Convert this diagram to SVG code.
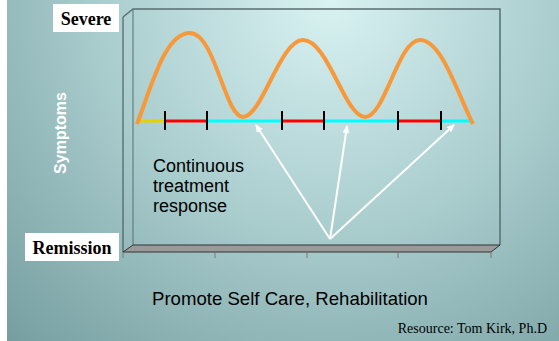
<svg xmlns="http://www.w3.org/2000/svg" width="559" height="341" viewBox="0 0 559 341">
<defs>
<radialGradient id="bg" cx="330" cy="0" r="520" gradientUnits="userSpaceOnUse">
<stop offset="0" stop-color="#d9f2f2"/>
<stop offset="0.45" stop-color="#a9cccd"/>
<stop offset="1" stop-color="#6b9496"/>
</radialGradient>
<marker id="ah" markerWidth="8" markerHeight="8" refX="7" refY="4" orient="auto" markerUnits="userSpaceOnUse">
<path d="M0,0.5 L8,4 L0,7.5 Z" fill="#ffffff"/>
</marker>
<style>
.lbl{font-family:"Liberation Serif","Times New Roman",serif;font-weight:bold;font-size:18px;fill:#000}
.sans{font-family:"Liberation Sans",Arial,sans-serif;fill:#000}
.tick{stroke:#000;stroke-width:2}
.arr{stroke:#fff;stroke-width:2;fill:none;marker-end:url(#ah)}
.seg{stroke-width:3;fill:none}
</style>
</defs>
<rect x="0" y="0" width="559" height="341" fill="#ffffff"/>
<rect x="7" y="0" width="552" height="341" fill="url(#bg)"/>

<g id="chart-frame">
<path d="M123,17 L133,9 L500,9 L500,245" fill="none" stroke="#5a6e70" stroke-width="1.5"/>
<path d="M133,9 L133,245" fill="none" stroke="#5a6e70" stroke-width="1"/>
<line x1="123" y1="17" x2="123" y2="252" stroke="#3d4c4d" stroke-width="1"/>
<path d="M123,252 L133,245 L500,245 L491,252 Z" fill="#9a9a9a" stroke="#333" stroke-width="1"/>
<g stroke="#777" stroke-width="1">
<line x1="123" y1="252" x2="123" y2="258"/>
<line x1="215" y1="252" x2="215" y2="258"/>
<line x1="307" y1="252" x2="307" y2="258"/>
<line x1="398" y1="252" x2="398" y2="258"/>
<line x1="491" y1="252" x2="491" y2="258"/>
</g>
</g>

<g id="severe">
<rect x="53" y="4" width="66" height="28" fill="#fff"/>
<text class="lbl" x="86" y="25" text-anchor="middle">Severe</text>
</g>
<g id="remission">
<rect x="25" y="233" width="94" height="28" fill="#fff"/>
<text class="lbl" x="72" y="254" text-anchor="middle">Remission</text>
</g>
<g id="symptoms">
<text class="sans" transform="translate(66,133) rotate(-90)" text-anchor="middle" font-size="16" font-weight="bold" style="fill:#fff">Symptoms</text>
</g>

<g id="baseline">
<line class="seg" x1="140" y1="121" x2="165" y2="121" stroke="#e8d000"/>
<line class="seg" x1="165" y1="121" x2="207" y2="121" stroke="#ff0000"/>
<line class="seg" x1="207" y1="121" x2="282" y2="121" stroke="#00ffff"/>
<line class="seg" x1="282" y1="121" x2="324" y2="121" stroke="#ff0000"/>
<line class="seg" x1="324" y1="121" x2="398" y2="121" stroke="#00ffff"/>
<line class="seg" x1="398" y1="121" x2="441" y2="121" stroke="#ff0000"/>
<line class="seg" x1="441" y1="121" x2="470" y2="121" stroke="#00ffff"/>
<line class="tick" x1="165" y1="111" x2="165" y2="130"/>
<line class="tick" x1="207" y1="111" x2="207" y2="130"/>
<line class="tick" x1="282" y1="111" x2="282" y2="130"/>
<line class="tick" x1="324" y1="111" x2="324" y2="130"/>
<line class="tick" x1="398" y1="111" x2="398" y2="130"/>
<line class="tick" x1="441" y1="111" x2="441" y2="130"/>
</g>

<g id="symptom-curve">
<path d="M137,124 C152,85 165,33 190,33 C215,33 225,117 243,117 C262,117 280,40 303,40 C328,40 345,117 365,117 C385,117 398,40 420,40 C442,40 458,95 473,124" fill="none" stroke="#f7993a" stroke-width="4"/>
</g>

<g id="treatment-label">
<text class="sans" font-size="18"><tspan x="153" y="172">Continuous</tspan><tspan x="153" y="192">treatment</tspan><tspan x="153" y="212">response</tspan></text>
</g>

<g id="connectors">
<line class="arr" x1="330" y1="239" x2="256" y2="125"/>
<line class="arr" x1="330" y1="239" x2="347" y2="126"/>
<line class="arr" x1="330" y1="239" x2="454" y2="125"/>
</g>

<g id="x-label">
<text class="sans" x="152" y="305" font-size="18.6">Promote Self Care, Rehabilitation</text>
</g>
<g id="resource">
<text x="547" y="333" text-anchor="end" font-family="Liberation Serif, Times New Roman, serif" font-size="14" fill="#000">Resource: Tom Kirk, Ph.D</text>
</g>
</svg>
